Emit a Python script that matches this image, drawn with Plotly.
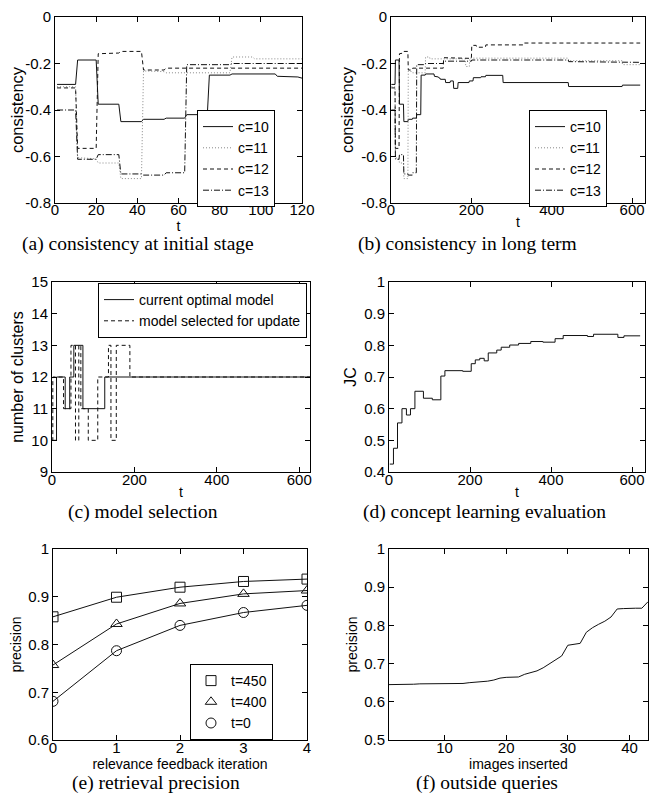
import plotly.graph_objects as go

# ---------------- data ----------------
# (a)/(b) consistency of models c=10..13 vs t
c10_t = [1,10,11,20,21,31,32,42,43,53,54,63,64,74,75,85,86,107,108,118,120,122,123,135,136,147,148,155,156,166,167,194,195,204,205,223,224,235,236,278,279,441,442,575,576,620]
c10_v = [-0.29,-0.29,-0.185,-0.185,-0.375,-0.375,-0.45,-0.45,-0.44,-0.44,-0.435,-0.435,-0.42,-0.42,-0.25,-0.25,-0.245,-0.245,-0.255,-0.258,-0.263,-0.263,-0.268,-0.268,-0.282,-0.282,-0.275,-0.275,-0.307,-0.307,-0.282,-0.282,-0.275,-0.275,-0.261,-0.261,-0.257,-0.257,-0.251,-0.251,-0.282,-0.282,-0.299,-0.299,-0.293,-0.293]
c11_t = [1,10,11,20,21,31,32,42,43,53,54,85,86,96,97,185,186,195,196,441,442,575,576,620]
c11_v = [-0.30,-0.30,-0.605,-0.61,-0.628,-0.628,-0.695,-0.695,-0.232,-0.235,-0.24,-0.24,-0.172,-0.172,-0.18,-0.18,-0.213,-0.213,-0.177,-0.177,-0.188,-0.188,-0.205,-0.205]
c12_t = [1,10,11,20,21,31,32,42,43,53,54,130,131,200,201,212,213,235,236,330,331,620]
c12_v = [-0.305,-0.305,-0.565,-0.565,-0.158,-0.155,-0.148,-0.148,-0.228,-0.228,-0.22,-0.22,-0.175,-0.178,-0.122,-0.122,-0.13,-0.13,-0.12,-0.12,-0.112,-0.112]
c13_t = [1,10,11,20,21,31,32,42,43,53,54,63,64,85,86,130,131,200,201,441,442,620]
c13_v = [-0.40,-0.40,-0.612,-0.612,-0.592,-0.592,-0.675,-0.675,-0.68,-0.68,-0.67,-0.67,-0.205,-0.205,-0.2,-0.2,-0.19,-0.19,-0.185,-0.185,-0.192,-0.195]
c_names = ["c=10", "c=11", "c=12", "c=13"]

# (c) model selection
opt_t = [0, 11, 32, 43, 53, 75, 128, 626]
opt_v = [10, 12, 11, 12, 13, 11, 12, 12]
upd_t = [0, 2, 28, 46, 57, 65, 70, 88, 111, 137, 143, 156, 189, 626]
upd_v = [10, 12, 11, 13, 10, 13, 11, 10, 12, 13, 10, 13, 12, 12]

# (d) concept learning evaluation (JC)
jc_t = [2, 11, 21, 32, 43, 53, 64, 85, 107, 128, 138, 182, 203, 213, 224, 235, 245, 266, 277, 298, 320, 350, 380, 410, 430, 490, 505, 565, 580, 620]
jc_v = [0.425, 0.475, 0.555, 0.60, 0.58, 0.60, 0.655, 0.633, 0.628, 0.703, 0.72, 0.718, 0.742, 0.754, 0.759, 0.751, 0.776, 0.785, 0.794, 0.801, 0.806, 0.812, 0.810, 0.821, 0.831, 0.828, 0.835, 0.825, 0.83, 0.83]

# (e) retrieval precision
rf_iter = [0, 1, 2, 3, 4]
prec_t450 = [0.858, 0.899, 0.920, 0.932, 0.937]
prec_t400 = [0.757, 0.843, 0.886, 0.906, 0.913]
prec_t0 = [0.681, 0.787, 0.840, 0.867, 0.882]

# (f) outside queries
img_n = [1,2,3,4,5,6,7,8,9,10,11,12,13,14,15,16,17,18,19,20,21,22,23,24,25,26,27,28,29,30,31,32,33,34,35,36,37,38,39,40,41,42,43]
img_prec = [0.645,0.645,0.646,0.646,0.646,0.647,0.647,0.647,0.647,0.647,0.647,0.647,0.648,0.650,0.651,0.653,0.654,0.657,0.662,0.664,0.665,0.665,0.672,0.676,0.681,0.689,0.700,0.709,0.720,0.748,0.750,0.753,0.782,0.794,0.803,0.811,0.822,0.843,0.844,0.845,0.845,0.845,0.862]

captions = ["(a) consistency at initial stage", "(b) consistency in long term",
            "(c) model selection", "(d) concept learning evaluation",
            "(e) retrieval precision", "(f) outside queries"]

# ---------------- figure ----------------
OFF = 8                      # default page body margin
W, H = 657 - 2 * OFF, 803 - 2 * OFF
SANS = "Liberation Sans, Arial, sans-serif"
SERIF = "Liberation Serif, Times New Roman, serif"

def px_x(p):
    return (p - OFF) / W

def px_y(p):
    return 1 - (p - OFF) / H

def xdom(l, r):
    return [px_x(l), px_x(r)]

def ydom(t, b):
    return [px_y(b), px_y(t)]

fig = go.Figure()

DASH = "4px,3px"
DOT = "1px,2px"
DASHDOT = "6px,2px,1px,2px"
styles = [dict(color="#111", dash="solid"), dict(color="#888", dash=DOT),
          dict(color="#111", dash=DASH), dict(color="#111", dash=DASHDOT)]
series = [(c10_t, c10_v), (c11_t, c11_v), (c12_t, c12_v), (c13_t, c13_v)]
for (xa, ya, lg) in [("x", "y", "legend"), ("x2", "y2", "legend2")]:
    for (t, v), nm, st in zip(series, c_names, styles):
        fig.add_trace(go.Scatter(x=t, y=v, mode="lines", name=nm, xaxis=xa, yaxis=ya,
                                 legend=lg, line=dict(width=1, **st)))

fig.add_trace(go.Scatter(x=opt_t, y=opt_v, mode="lines", line_shape="hv", name="current optimal model",
                         xaxis="x3", yaxis="y3", legend="legend3", line=dict(color="#111", width=1)))
fig.add_trace(go.Scatter(x=upd_t, y=upd_v, mode="lines", line_shape="hv", name="model selected for update",
                         xaxis="x3", yaxis="y3", legend="legend3", line=dict(color="#111", width=1, dash=DASH)))

fig.add_trace(go.Scatter(x=jc_t, y=jc_v, mode="lines", line_shape="hv", showlegend=False,
                         xaxis="x4", yaxis="y4", line=dict(color="#111", width=1)))

for vals, nm, sym in [(prec_t450, "t=450", "square-open"), (prec_t400, "t=400", "triangle-up-open"),
                      (prec_t0, "t=0", "circle-open")]:
    fig.add_trace(go.Scatter(x=rf_iter, y=vals, mode="lines", showlegend=False, xaxis="x5", yaxis="y5",
                             line=dict(color="#111", width=1)))
    fig.add_trace(go.Scatter(x=rf_iter, y=vals, mode="markers", name=nm, xaxis="x5", yaxis="y5",
                             legend="legend4",
                             marker=dict(symbol=sym, size=10, color="#111", line=dict(width=1, color="#111"))))

fig.add_trace(go.Scatter(x=img_n, y=img_prec, mode="lines", showlegend=False, xaxis="x6", yaxis="y6",
                         line=dict(color="#111", width=1)))

def axis(domain, rng, tv, tt, title, anchor, standoff, tsize=14, is_x=True, lstand=-6):
    d = dict(domain=domain, range=rng, tickvals=tv, ticktext=tt, ticks="inside", ticklen=5,
             tickcolor="black", showline=True, mirror="ticks", linecolor="black", linewidth=1,
             showgrid=False, zeroline=False, anchor=anchor, automargin=False,
             ticklabeloverflow="allow",
             tickfont=dict(family=SANS, size=15, color="black"),
             title=dict(text=title, font=dict(family=SANS, size=tsize, color="black"), standoff=standoff))
    if is_x:
        d["ticklabelstandoff"] = lstand
    return d

cons_tv = [-0.8, -0.6, -0.4, -0.2, 0]
cons_tt = ["-0.8", "-0.6", "-0.4", "-0.2", "0"]
t_long_tv = [0, 200, 400, 600]
t_long_tt = ["0", "200", "400", "600"]

fig.update_layout(
    template="none",
    width=W, height=H, margin=dict(l=0, r=0, t=0, b=0, autoexpand=False),
    paper_bgcolor="white", plot_bgcolor="white",
    xaxis=axis(xdom(55, 302), [0, 120], [0, 20, 40, 60, 80, 100, 120],
               ["0", "20", "40", "60", "80", "100", "120"], "t", "y", 0, lstand=-7),
    yaxis=axis(ydom(17, 203), [-0.8, 0], cons_tv, cons_tt, "consistency", "x", 3, 16.5, False),
    xaxis2=axis(xdom(391, 645), [0, 632], t_long_tv, t_long_tt, "t", "y2", 0, lstand=-7),
    yaxis2=axis(ydom(17, 203), [-0.8, 0], cons_tv, cons_tt, "consistency", "x2", 3, 16.5, False),
    xaxis3=axis(xdom(52, 310), [0, 626], t_long_tv, t_long_tt, "t", "y3", 0),
    yaxis3=axis(ydom(282, 472), [9, 15], [9, 10, 11, 12, 13, 14, 15],
                ["9", "10", "11", "12", "13", "14", "15"], "number of clusters", "x3", 3, 16, False),
    xaxis4=axis(xdom(389, 645), [0, 632], t_long_tv, t_long_tt, "t", "y4", 0),
    yaxis4=axis(ydom(282, 472), [0.4, 1], [0.4, 0.5, 0.6, 0.7, 0.8, 0.9, 1],
                ["0.4", "0.5", "0.6", "0.7", "0.8", "0.9", "1"], "JC", "x4", 3, 16, False),
    xaxis5=axis(xdom(53, 307), [0, 4], [0, 1, 2, 3, 4], ["0", "1", "2", "3", "4"],
                "relevance feedback iteration", "y5", 0),
    yaxis5=axis(ydom(549, 740), [0.6, 1], [0.6, 0.7, 0.8, 0.9, 1],
                ["0.6", "0.7", "0.8", "0.9", "1"], "precision", "x5", 3, 14, False),
    xaxis6=axis(xdom(389, 648), [1, 43], [10, 20, 30, 40], ["10", "20", "30", "40"],
                "images inserted", "y6", 0),
    yaxis6=axis(ydom(549, 740), [0.5, 1], [0.5, 0.6, 0.7, 0.8, 0.9, 1],
                ["0.5", "0.6", "0.7", "0.8", "0.9", "1"], "precision", "x6", 3, 14, False),
)

leg_common = dict(xanchor="left", yanchor="top", bgcolor="white", bordercolor="black", borderwidth=1,
                  font=dict(family=SANS, size=14, color="black"), tracegroupgap=0, itemwidth=30)
fig.update_layout(
    legend=dict(x=px_x(197), y=px_y(110), **leg_common),
    legend2=dict(x=px_x(529), y=px_y(110), **leg_common),
    legend3=dict(x=px_x(98), y=px_y(283), **leg_common),
    legend4=dict(x=px_x(190), y=px_y(664), **leg_common),
)

cap_pos = [(138, 244), (467, 244), (143, 512), (484, 512), (156, None), (487, None)]
for txt, (cx, cy) in zip(captions, cap_pos):
    if cy is None:
        fig.add_annotation(text=txt, x=px_x(cx), y=0, xref="paper", yref="paper",
                           showarrow=False, xanchor="center", yanchor="bottom", borderpad=0,
                           font=dict(family=SERIF, size=19.5, color="black"))
    else:
        fig.add_annotation(text=txt, x=px_x(cx), y=px_y(cy), xref="paper", yref="paper",
                           showarrow=False, xanchor="center", yanchor="middle", borderpad=0,
                           font=dict(family=SERIF, size=19.5, color="black"))

fig.write_html("out.html")
